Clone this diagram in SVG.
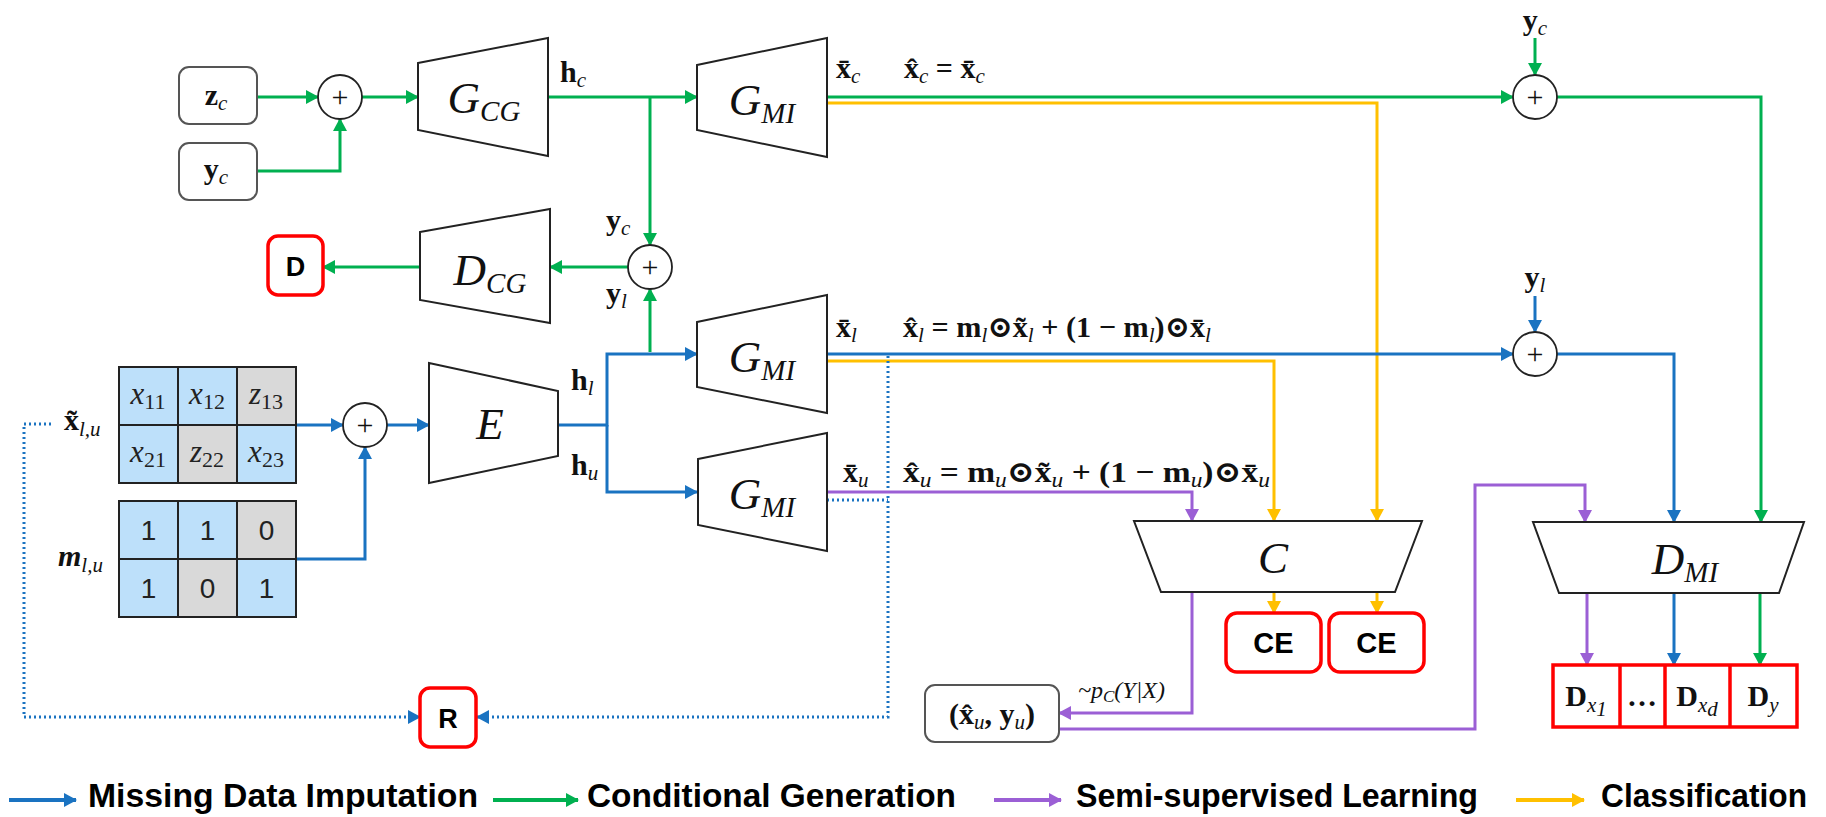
<svg xmlns="http://www.w3.org/2000/svg" width="1826" height="817" viewBox="0 0 1826 817">
<defs>
<style>
.ln{fill:none;stroke-width:3}
.b{stroke:#1a73c1}.g{stroke:#00b050}.p{stroke:#9b5fd5}.y{stroke:#ffc000}
.dot{fill:none;stroke:#1a73c1;stroke-width:3;stroke-dasharray:2 3}
.trap{fill:#fff;stroke:#222;stroke-width:2}
.circ{fill:#fff;stroke:#222;stroke-width:1.8}
.plus{font-family:"Liberation Serif",serif;font-size:30px;text-anchor:middle;fill:#111}
.gbox{fill:#fff;stroke:#555;stroke-width:2}
.rbox{fill:#fff;stroke:#ff0000;stroke-width:3.5}
.big{font-family:"Liberation Serif",serif;font-style:italic;font-size:45px;fill:#111;text-anchor:middle}
.bsub{font-size:29px}
.lb{font-family:"Liberation Serif","DejaVu Serif",serif;font-weight:bold;font-size:30px;fill:#111}
.si{font-style:italic;font-weight:normal;font-size:21px}
.fm{font-family:"Liberation Serif","DejaVu Serif",serif;font-weight:bold;font-size:30px;fill:#111}
.sans{font-family:"Liberation Sans",Arial,sans-serif;font-weight:bold;fill:#000;text-anchor:middle}
.cell{font-family:"Liberation Serif",serif;font-style:italic;font-size:31px;fill:#222;text-anchor:middle}
.cs{font-style:normal;font-size:22px}
.num{font-family:"Liberation Sans",sans-serif;font-size:28px;fill:#222;text-anchor:middle}
.cb{fill:#bde0fa;stroke:#222;stroke-width:2}
.cg{fill:#d9d9d9;stroke:#222;stroke-width:2}
.leg{font-family:"Liberation Sans",Arial,sans-serif;font-weight:bold;font-size:33px;fill:#000}
</style>
<marker id="ab" viewBox="0 0 13 14" refX="12" refY="7" markerWidth="13" markerHeight="14" markerUnits="userSpaceOnUse" orient="auto"><path d="M0,0 L13,7 L0,14 z" fill="#1a73c1"/></marker>
<marker id="ag" viewBox="0 0 13 14" refX="12" refY="7" markerWidth="13" markerHeight="14" markerUnits="userSpaceOnUse" orient="auto"><path d="M0,0 L13,7 L0,14 z" fill="#00b050"/></marker>
<marker id="ap" viewBox="0 0 13 14" refX="12" refY="7" markerWidth="13" markerHeight="14" markerUnits="userSpaceOnUse" orient="auto"><path d="M0,0 L13,7 L0,14 z" fill="#9b5fd5"/></marker>
<marker id="ay" viewBox="0 0 13 14" refX="12" refY="7" markerWidth="13" markerHeight="14" markerUnits="userSpaceOnUse" orient="auto"><path d="M0,0 L13,7 L0,14 z" fill="#ffc000"/></marker>
</defs>
<rect width="1826" height="817" fill="#fff"/>

<!-- connectors -->
<g id="connectors">
  <!-- conditional generation (green) -->
  <path class="ln g" d="M257,97 H318" marker-end="url(#ag)"/>
  <path class="ln g" d="M257,171 H340 V119" marker-end="url(#ag)"/>
  <path class="ln g" d="M362,97 H418" marker-end="url(#ag)"/>
  <path class="ln g" d="M548,97 H697" marker-end="url(#ag)"/>
  <path class="ln g" d="M650,97 V245" marker-end="url(#ag)"/>
  <path class="ln g" d="M650,352 V289" marker-end="url(#ag)"/>
  <path class="ln g" d="M628,267 H550" marker-end="url(#ag)"/>
  <path class="ln g" d="M420,267 H323" marker-end="url(#ag)"/>
  <path class="ln g" d="M827,97 H1513" marker-end="url(#ag)"/>
  <path class="ln g" d="M1535,38 V75" marker-end="url(#ag)"/>
  <path class="ln g" d="M1557,97 H1761 V522" marker-end="url(#ag)"/>
  <path class="ln g" d="M1760,593 V665" marker-end="url(#ag)"/>
  <!-- classification (yellow) -->
  <path class="ln y" d="M827,103 H1377 V521" marker-end="url(#ay)"/>
  <path class="ln y" d="M827,361 H1274 V521" marker-end="url(#ay)"/>
  <path class="ln y" d="M1274,592 V613" marker-end="url(#ay)"/>
  <path class="ln y" d="M1377,592 V613" marker-end="url(#ay)"/>
  <!-- missing data imputation (blue) -->
  <path class="ln b" d="M296,425 H343" marker-end="url(#ab)"/>
  <path class="ln b" d="M296,559 H365 V447" marker-end="url(#ab)"/>
  <path class="ln b" d="M387,425 H429" marker-end="url(#ab)"/>
  <path class="ln b" d="M558,425 H607 V354 H697" marker-end="url(#ab)"/>
  <path class="ln b" d="M607,425 V492 H697" marker-end="url(#ab)"/>
  <path class="ln b" d="M827,354 H1513" marker-end="url(#ab)"/>
  <path class="ln b" d="M1535,296 V332" marker-end="url(#ab)"/>
  <path class="ln b" d="M1557,354 H1674 V522" marker-end="url(#ab)"/>
  <path class="ln b" d="M1674,593 V665" marker-end="url(#ab)"/>
  <path class="dot" d="M827,500 H888"/>
  <path class="dot" d="M888,356 V717 H477" marker-end="url(#ab)"/>
  <path class="dot" d="M51,424 H24 V717 H420" marker-end="url(#ab)"/>
  <!-- semi-supervised (purple) -->
  <path class="ln p" d="M827,492 H1192 V521" marker-end="url(#ap)"/>
  <path class="ln p" d="M1192,592 V713 H1059" marker-end="url(#ap)"/>
  <path class="ln p" d="M1059,729 H1475 V485 H1585 V522" marker-end="url(#ap)"/>
  <path class="ln p" d="M1587,593 V665" marker-end="url(#ap)"/>
</g>

<!-- inputs -->
<g id="zc">
  <rect class="gbox" x="179" y="67" width="78" height="57" rx="10"/>
  <text class="lb" x="216" y="105" text-anchor="middle">z<tspan class="si" dy="5">c</tspan></text>
</g>
<g id="yc-in">
  <rect class="gbox" x="179" y="143" width="78" height="57" rx="10"/>
  <text class="lb" x="216" y="179" text-anchor="middle">y<tspan class="si" dy="5">c</tspan></text>
</g>
<g id="plus1">
  <circle class="circ" cx="340" cy="97" r="22"/>
  <text class="plus" x="340" y="107">+</text>
</g>
<g id="gcg">
  <polygon class="trap" points="418,63 548,38 548,156 418,130"/>
  <text class="big" x="484" y="113">G<tspan class="bsub" dy="8">CG</tspan></text>
  <text class="lb" x="560" y="82">h<tspan class="si" dy="5">c</tspan></text>
</g>
<g id="gmi-c">
  <polygon class="trap" points="697,65 827,38 827,157 697,130"/>
  <text class="big" x="762" y="115">G<tspan class="bsub" dy="8">MI</tspan></text>
  <text class="lb" x="836" y="78">x̄<tspan class="si" dy="5">c</tspan></text>
  <text class="lb" x="904" y="78">x̂<tspan class="si" dy="5">c</tspan><tspan dy="-5"> = x̄</tspan><tspan class="si" dy="5">c</tspan></text>
</g>
<g id="d-out">
  <rect class="rbox" x="268" y="236" width="55" height="59" rx="10"/>
  <text class="sans" x="295.5" y="276" font-size="27">D</text>
</g>
<g id="dcg">
  <polygon class="trap" points="420,232 550,209 550,323 420,300"/>
  <text class="big" x="490" y="285">D<tspan class="bsub" dy="8">CG</tspan></text>
</g>
<g id="plus2">
  <circle class="circ" cx="650" cy="267" r="22"/>
  <text class="plus" x="650" y="277">+</text>
  <text class="lb" x="606" y="230">y<tspan class="si" dy="5">c</tspan></text>
  <text class="lb" x="606" y="303">y<tspan class="si" dy="5">l</tspan></text>
</g>
<g id="plus3">
  <circle class="circ" cx="1535" cy="97" r="22"/>
  <text class="plus" x="1535" y="107">+</text>
  <text class="lb" x="1535" y="30" text-anchor="middle">y<tspan class="si" dy="5">c</tspan></text>
</g>

<!-- data grids -->
<g id="x-grid">
  <rect class="cb" x="119" y="367" width="59" height="58"/>
  <rect class="cb" x="178" y="367" width="59" height="58"/>
  <rect class="cg" x="237" y="367" width="59" height="58"/>
  <rect class="cb" x="119" y="425" width="59" height="58"/>
  <rect class="cg" x="178" y="425" width="59" height="58"/>
  <rect class="cb" x="237" y="425" width="59" height="58"/>
  <text class="cell" x="148" y="404">x<tspan class="cs" dy="5">11</tspan></text>
  <text class="cell" x="207" y="404">x<tspan class="cs" dy="5">12</tspan></text>
  <text class="cell" x="266" y="404">z<tspan class="cs" dy="5">13</tspan></text>
  <text class="cell" x="148" y="462">x<tspan class="cs" dy="5">21</tspan></text>
  <text class="cell" x="207" y="462">z<tspan class="cs" dy="5">22</tspan></text>
  <text class="cell" x="266" y="462">x<tspan class="cs" dy="5">23</tspan></text>
  <text class="lb" x="64" y="430">x̃<tspan class="si" dy="6">l,u</tspan></text>
</g>
<g id="m-grid">
  <rect class="cb" x="119" y="501" width="59" height="58"/>
  <rect class="cb" x="178" y="501" width="59" height="58"/>
  <rect class="cg" x="237" y="501" width="59" height="58"/>
  <rect class="cb" x="119" y="559" width="59" height="58"/>
  <rect class="cg" x="178" y="559" width="59" height="58"/>
  <rect class="cb" x="237" y="559" width="59" height="58"/>
  <text class="num" x="148.5" y="540">1</text>
  <text class="num" x="207.5" y="540">1</text>
  <text class="num" x="266.5" y="540">0</text>
  <text class="num" x="148.5" y="598">1</text>
  <text class="num" x="207.5" y="598">0</text>
  <text class="num" x="266.5" y="598">1</text>
  <text class="lb" x="58" y="566" font-style="italic">m<tspan class="si" dy="6">l,u</tspan></text>
</g>
<g id="plus5">
  <circle class="circ" cx="365" cy="425" r="22"/>
  <text class="plus" x="365" y="435">+</text>
</g>
<g id="encoder">
  <polygon class="trap" points="429,363 558,391 558,456 429,483"/>
  <text class="big" x="490" y="439">E</text>
  <text class="lb" x="571" y="390">h<tspan class="si" dy="5">l</tspan></text>
  <text class="lb" x="571" y="475">h<tspan class="si" dy="5">u</tspan></text>
</g>
<g id="gmi-l">
  <polygon class="trap" points="697,322 827,295 827,413 697,387"/>
  <text class="big" x="762" y="372">G<tspan class="bsub" dy="8">MI</tspan></text>
  <text class="lb" x="836" y="337">x̄<tspan class="si" dy="5">l</tspan></text>
  <text class="fm" x="903" y="337" textLength="308" lengthAdjust="spacingAndGlyphs">x̂<tspan class="si" dy="5">l</tspan><tspan dy="-5"> = m</tspan><tspan class="si" dy="5">l</tspan><tspan dy="-5">⊙x̃</tspan><tspan class="si" dy="5">l</tspan><tspan dy="-5"> + (1 − m</tspan><tspan class="si" dy="5">l</tspan><tspan dy="-5">)⊙x̄</tspan><tspan class="si" dy="5">l</tspan></text>
</g>
<g id="plus4">
  <circle class="circ" cx="1535" cy="354" r="22"/>
  <text class="plus" x="1535" y="364">+</text>
  <text class="lb" x="1535" y="287" text-anchor="middle">y<tspan class="si" dy="5">l</tspan></text>
</g>
<g id="gmi-u">
  <polygon class="trap" points="698,459 827,433 827,551 698,525"/>
  <text class="big" x="762" y="509">G<tspan class="bsub" dy="8">MI</tspan></text>
  <text class="lb" x="843" y="482">x̄<tspan class="si" dy="5">u</tspan></text>
  <text class="fm" x="903" y="482" textLength="367" lengthAdjust="spacingAndGlyphs">x̂<tspan class="si" dy="5">u</tspan><tspan dy="-5"> = m</tspan><tspan class="si" dy="5">u</tspan><tspan dy="-5">⊙x̃</tspan><tspan class="si" dy="5">u</tspan><tspan dy="-5"> + (1 − m</tspan><tspan class="si" dy="5">u</tspan><tspan dy="-5">)⊙x̄</tspan><tspan class="si" dy="5">u</tspan></text>
</g>
<g id="r-out">
  <rect class="rbox" x="420" y="688" width="56" height="59" rx="10"/>
  <text class="sans" x="448" y="728" font-size="27">R</text>
</g>

<!-- classifier -->
<g id="classifier">
  <polygon class="trap" points="1134,521 1422,521 1395,592 1161,592"/>
  <text class="big" x="1273" y="573">C</text>
</g>
<g id="ce1">
  <rect class="rbox" x="1226" y="613" width="95" height="59" rx="11"/>
  <text class="sans" x="1273.5" y="653" font-size="29">CE</text>
</g>
<g id="ce2">
  <rect class="rbox" x="1329" y="613" width="95" height="59" rx="11"/>
  <text class="sans" x="1376.5" y="653" font-size="29">CE</text>
</g>
<g id="pseudo">
  <rect class="gbox" x="925" y="685" width="134" height="57" rx="10"/>
  <text class="lb" x="992" y="724" text-anchor="middle" font-weight="normal">(<tspan font-weight="bold">x̂</tspan><tspan class="si" dy="5">u</tspan><tspan dy="-5">, </tspan><tspan font-weight="bold">y</tspan><tspan class="si" dy="5">u</tspan><tspan dy="-5">)</tspan></text>
  <text x="1078" y="698" font-family="Liberation Serif, serif" font-style="italic" font-size="24" fill="#111">~p<tspan font-size="17" dy="4">C</tspan><tspan dy="-4">(Y|X)</tspan></text>
</g>

<!-- discriminator -->
<g id="dmi">
  <polygon class="trap" points="1533,522 1804,522 1779,593 1559,593"/>
  <text class="big" x="1685" y="574">D<tspan class="bsub" dy="8">MI</tspan></text>
</g>
<g id="dmi-out">
  <rect class="rbox" x="1553" y="665" width="244" height="62"/>
  <path d="M1620,665 V727 M1665,665 V727 M1730,665 V727" stroke="#ff0000" stroke-width="3.5" fill="none"/>
  <text class="lb" x="1586" y="706" text-anchor="middle" font-size="30">D<tspan class="si" dy="6">x</tspan><tspan class="si" font-size="14" dy="4">1</tspan></text>
  <text class="lb" x="1642" y="706" text-anchor="middle" font-size="26">…</text>
  <text class="lb" x="1697" y="706" text-anchor="middle" font-size="30">D<tspan class="si" dy="6">x</tspan><tspan class="si" font-size="14" dy="4">d</tspan></text>
  <text class="lb" x="1763" y="706" text-anchor="middle" font-size="30">D<tspan class="si" dy="6">y</tspan></text>
</g>

<!-- legend -->
<g id="legend">
  <path d="M9,800 H76" stroke="#1a73c1" stroke-width="4" fill="none" marker-end="url(#ab)"/>
  <text class="leg" x="88" y="807" textLength="390" lengthAdjust="spacingAndGlyphs">Missing Data Imputation</text>
  <path d="M493,800 H578" stroke="#00b050" stroke-width="4" fill="none" marker-end="url(#ag)"/>
  <text class="leg" x="587" y="807" textLength="369" lengthAdjust="spacingAndGlyphs">Conditional Generation</text>
  <path d="M994,800 H1061" stroke="#9b5fd5" stroke-width="4" fill="none" marker-end="url(#ap)"/>
  <text class="leg" x="1076" y="807" textLength="402" lengthAdjust="spacingAndGlyphs">Semi-supervised Learning</text>
  <path d="M1516,800 H1584" stroke="#ffc000" stroke-width="4" fill="none" marker-end="url(#ay)"/>
  <text class="leg" x="1601" y="807" textLength="206" lengthAdjust="spacingAndGlyphs">Classification</text>
</g>
</svg>
